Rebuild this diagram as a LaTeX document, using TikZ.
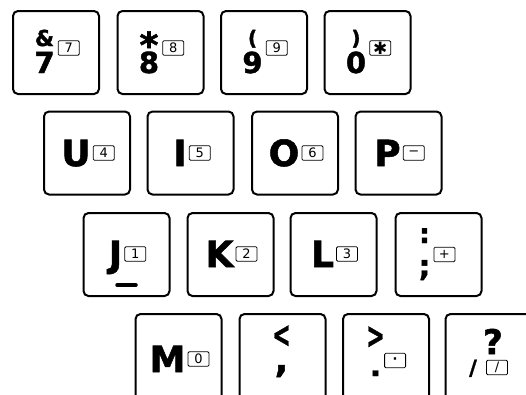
\documentclass[tikz,border=0pt]{standalone}
\usepackage{fontspec}
\usepackage{graphicx}
\setmainfont{DejaVu Sans}
\newfontfamily\keyfont{DejaVu Sans}[BoldFeatures={FakeBold=1.5}]
\newcommand\KL{\fontsize{36}{36}\selectfont\keyfont\bfseries}
\newcommand\KD{\fontsize{29}{29}\selectfont\keyfont\bfseries}
\newcommand\KU{\fontsize{20}{20}\selectfont\keyfont\bfseries}
\newcommand\KX[1]{\fontsize{#1}{#1}\selectfont\keyfont\bfseries}
\newcommand\KS{\fontsize{13}{13}\selectfont}
\newcommand\dualglyph[3]{\setbox0=\hbox{#3}\rlap{\hbox to \wd0{\hss\raisebox{#2}{#1}\hss}}\box0}
\newcommand\boxgap[1]{\hspace{#1}\mbox{}}
\tikzset{
  key/.style={draw, line width=2pt, rounded corners=5pt, minimum width=86pt, minimum height=83pt, inner sep=0pt},
  lowkey/.style={key, minimum height=92pt},
  glyphs/.style={inner sep=0pt, outer sep=0pt, anchor=base},
  numbox/.style={draw, line width=0.8pt, rounded corners=1.2pt, minimum width=21pt, minimum height=14.5pt, inner sep=0pt, font=\KS, anchor=east},
  bar/.style={line width=3.5pt, line cap=round}
}
\begin{document}
\begin{tikzpicture}[x=1pt, y=-1pt]
\useasboundingbox (0,0) rectangle (526,394);
\clip (0,0) rectangle (526,394);
% row 1
\node[key] (k7) at (56,52.5) {};
\node[key] (k8) at (160.5,52.5) {};
\node[key] (k9) at (264,52.5) {};
\node[key] (k0) at (367.5,52.5) {};
\node[glyphs] (g7) at (57,73) {\dualglyph{\KX{22}\&}{27pt}{\KD 7}\boxgap{25pt}};
\node[numbox, yshift=25pt] (b7) at (g7.base east) {7};
\node[glyphs] (g8) at (161.5,73) {\dualglyph{\KX{36}*}{15pt}{\KD 8}\boxgap{25pt}};
\node[numbox, yshift=25pt] (b8) at (g8.base east) {8};
\node[glyphs] (g9) at (265,73) {\dualglyph{\KU(}{28pt}{\KD 9}\boxgap{25pt}};
\node[numbox, yshift=25pt] (b9) at (g9.base east) {9};
\node[glyphs] (g0) at (368.5,73) {\dualglyph{\KU)}{28pt}{\KD 0}\boxgap{25pt}};
\node[numbox, yshift=25pt] (b0) at (g0.base east) {\fontsize{17}{17}\selectfont\bfseries ✱};
% row 2
\node[key] (ku) at (87,153) {};
\node[key] (ki) at (190.5,153) {};
\node[key] (ko) at (295,153) {};
\node[key] (kp) at (398.5,153) {};
\node[glyphs] (gu) at (88,166) {\KL U\boxgap{24pt}};
\node[numbox, yshift=13pt] (bu) at (gu.base east) {4};
\node[glyphs] (gi) at (192,166) {\KL I\boxgap{24pt}};
\node[numbox, yshift=13pt] (bi) at (gi.base east) {5};
\node[glyphs] (go) at (296,166) {\KL O\boxgap{24pt}};
\node[numbox, yshift=13pt] (bo) at (go.base east) {6};
\node[glyphs] (gp) at (399.5,166) {\KL P\boxgap{24pt}};
\node[numbox, yshift=13pt] (bp) at (gp.base east) {−};
% row 3
\node[key] (kj) at (126.5,254.5) {};
\node[key] (kk) at (230.5,254.5) {};
\node[key] (kl) at (333.5,254.5) {};
\node[key] (ks) at (438.5,254.5) {};
\node[glyphs] (gj) at (127.5,267) {\KL J\boxgap{24pt}};
\node[numbox, yshift=13pt] (bj) at (gj.base east) {1};
\draw[bar] (117,285) -- (136,285);
\node[glyphs] (gk) at (231.5,267) {\KL K\boxgap{24pt}};
\node[numbox, yshift=13pt] (bk) at (gk.base east) {2};
\node[glyphs] (gl) at (334.5,267) {\KL L\boxgap{24pt}};
\node[numbox, yshift=13pt] (bl) at (gl.base east) {3};
\node[glyphs] (gs) at (437,276) {\dualglyph{\KX{27}:}{33pt}{\KD ;}\boxgap{25pt}};
\node[numbox, yshift=21.5pt] (bs) at (gs.base east) {+};
% row 4
\node[lowkey] (km) at (178.5,360) {};
\node[lowkey] (kc) at (282.5,360) {};
\node[lowkey] (kd) at (386,360) {};
\node[lowkey] (kq) at (488.5,360) {};
\node[glyphs] (gm) at (179.5,372) {\KL M\boxgap{24pt}};
\node[numbox, yshift=13pt] (bm) at (gm.base east) {0};
\node[glyphs] (gc) at (281.5,372) {\dualglyph{\scalebox{0.62}[1]{\KX{36}<}}{25pt}{\KX{36},}};
\node[glyphs] (gd) at (388,376) {\dualglyph{\scalebox{0.62}[1]{\KX{36}>}}{28pt}{\KD .}\boxgap{25pt}};
\node[numbox, yshift=15.5pt] (bd) at (gd.base east) {\bfseries ·};
\node[glyphs] (gsl) at (473,375) {\KX{21}/};
\node[glyphs] (gq) at (493,354) {\KX{34}?};
\node[numbox, anchor=center] (bq) at (497,367.5) {/};
\end{tikzpicture}
\end{document}
